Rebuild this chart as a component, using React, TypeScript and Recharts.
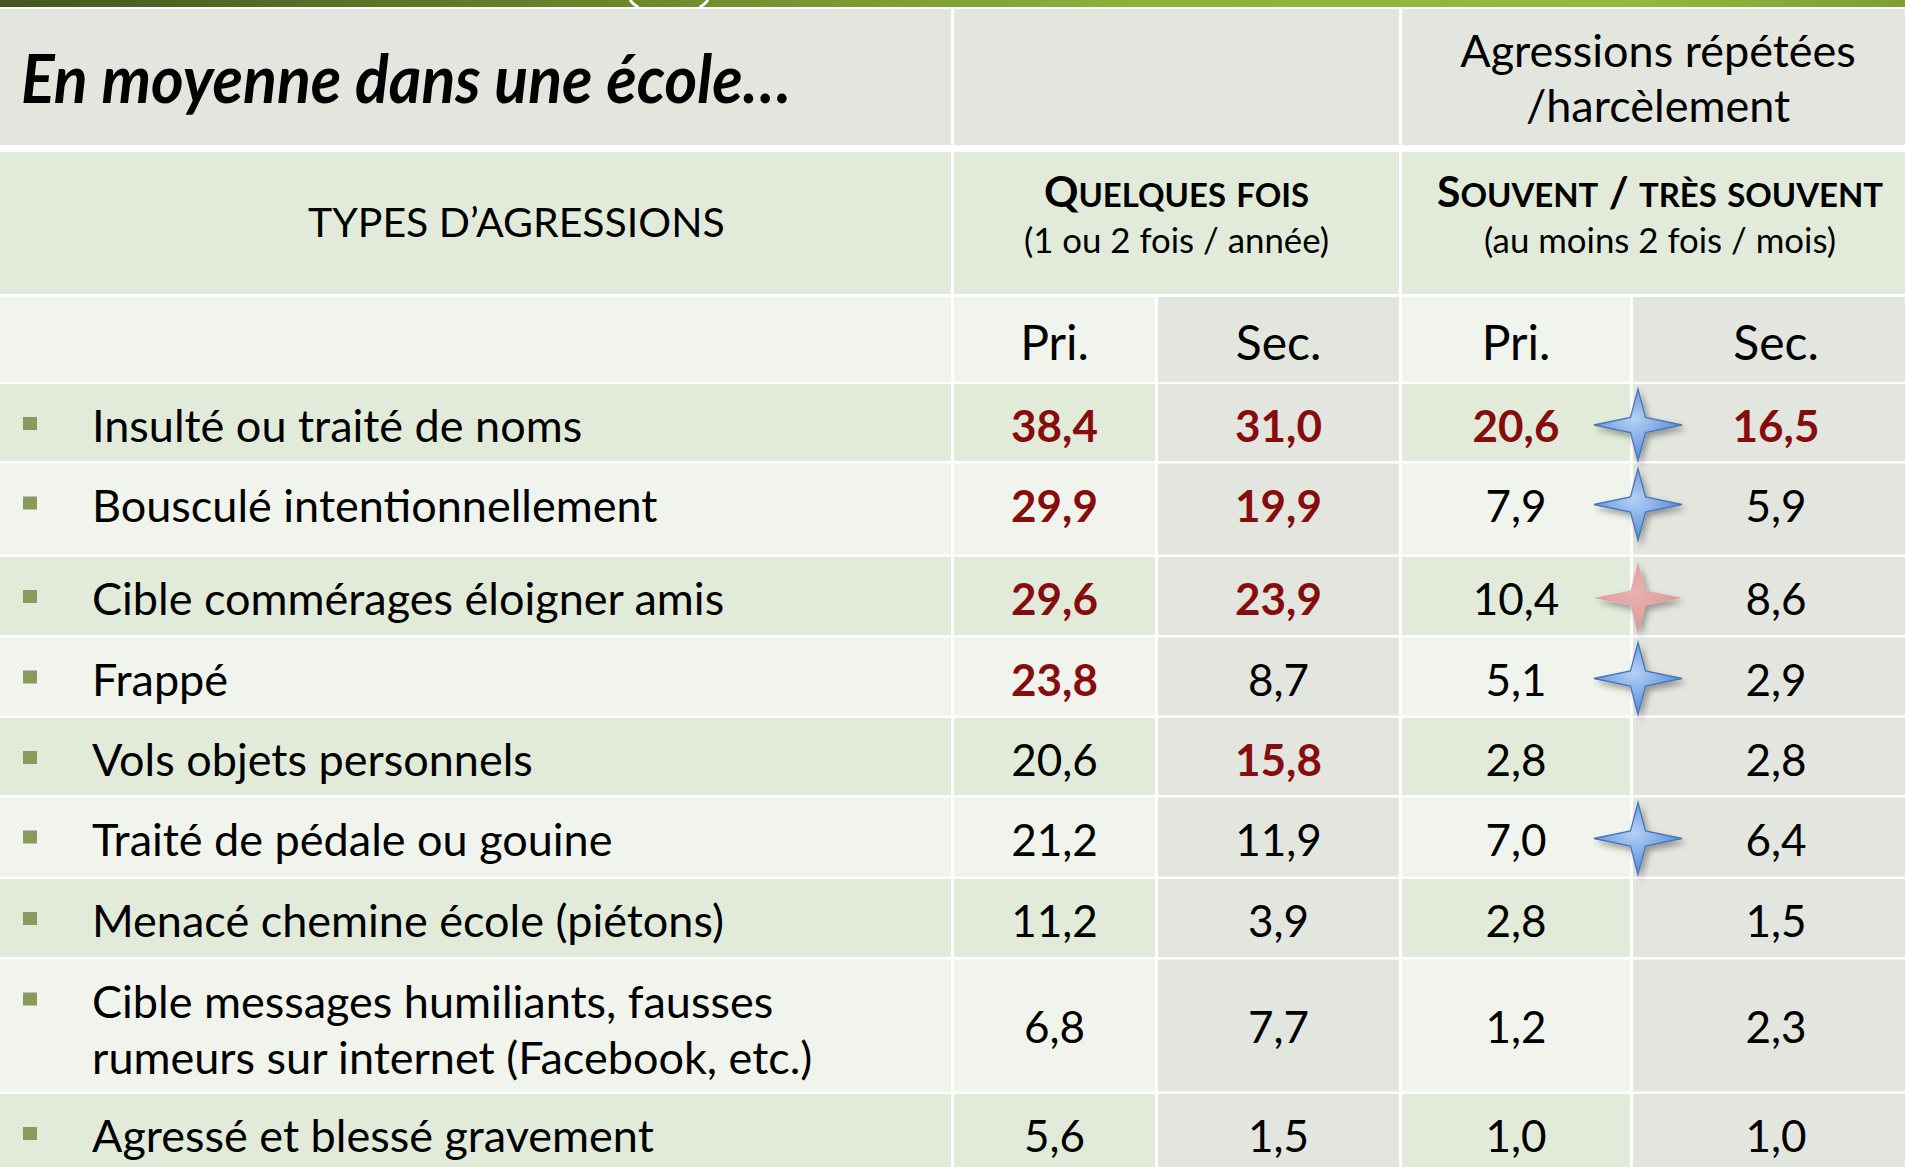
import React from "react";
import { ScatterChart, Scatter, XAxis, YAxis, ReferenceArea } from "recharts";

// ---------------- data ----------------
const agressionTypes = [
  "Insulté ou traité de noms",
  "Bousculé intentionnellement",
  "Cible commérages éloigner amis",
  "Frappé",
  "Vols objets personnels",
  "Traité de pédale ou gouine",
  "Menacé chemine école (piétons)",
  "Cible messages humiliants, fausses\nrumeurs sur internet (Facebook, etc.)",
  "Agressé et blessé gravement",
];
const quelquesFoisPrimaire = [38.4, 29.9, 29.6, 23.8, 20.6, 21.2, 11.2, 6.8, 5.6];
const quelquesFoisSecondaire = [31.0, 19.9, 23.9, 8.7, 15.8, 11.9, 3.9, 7.7, 1.5];
const souventPrimaire = [20.6, 7.9, 10.4, 5.1, 2.8, 7.0, 2.8, 1.2, 1.0];
const souventSecondaire = [16.5, 5.9, 8.6, 2.9, 2.8, 6.4, 1.5, 2.3, 1.0];
const quelquesFoisPrimaireMarque = [true, true, true, true, false, false, false, false, false];
const quelquesFoisSecondaireMarque = [true, true, true, false, true, false, false, false, false];
const souventPrimaireMarque = [true, false, false, false, false, false, false, false, false];
const souventSecondaireMarque = [true, false, false, false, false, false, false, false, false];
const etoilesEcart = ["bleue", "bleue", "rose", "bleue", "", "bleue", "", "", ""];

const titreTableau = "En moyenne dans une école…";
const titreRepetees = ["Agressions répétées", "/harcèlement"];
const titreTypes = "TYPES D’AGRESSIONS";
const groupesFrequence = ["Quelques fois", "Souvent / très souvent"];
const notesFrequence = ["(1 ou 2 fois / année)", "(au moins 2 fois / mois)"];
const sousColonnes = ["Pri.", "Sec.", "Pri.", "Sec."];

// ---------------- layout & style ----------------
const W = 1905;
const H = 1167;
const FONT = "Lato, 'Open Sans', sans-serif";
const COLS: [number, number][] = [
  [0, 951],
  [954, 1155],
  [1158, 1399],
  [1402, 1630],
  [1633, 1919],
];
const HEAD_ROWS: [number, number][] = [
  [9, 145],
  [152, 294],
  [297, 382],
];
const BODY_TOP = 384;
const ROW_HEIGHTS = [77, 91, 78, 78, 77, 79, 78, 132, 80];
const ROW_GAP = 2.5;
const FIRST_BASE = 58;
const LINE_H = 56;
const LABEL_SIZE = 45;
const VALUE_SIZE = 44;

const C_HEAD1 = "#E3E6DF";
const C_HEAD2 = "#E2EBDA";
const C_LIGHT = "#F1F4EC";
const C_GREEN = "#E2EBDA";
const C_GRAY = "#E3E5DF";
const C_RED = "#860D0D";

const fmt = (v: number) => v.toFixed(1).replace(".", ",");
const colCenter = (i: number) => (COLS[i][0] + COLS[i][1]) / 2;

const rowTops: number[] = [];
{
  let t = BODY_TOP;
  ROW_HEIGHTS.forEach((h) => {
    rowTops.push(t);
    t += h + ROW_GAP;
  });
}
const lineCount = (s: string) => s.split("\n").length;

// ---------- background cells ----------
type Cell = { x1: number; x2: number; y1: number; y2: number; fill: string };
const cells: Cell[] = [];
const spans3: [number, number][] = [
  [COLS[0][0], COLS[0][1]],
  [COLS[1][0], COLS[2][1]],
  [COLS[3][0], W],
];
spans3.forEach(([a, b]) => cells.push({ x1: a, x2: b, y1: HEAD_ROWS[0][0], y2: HEAD_ROWS[0][1], fill: C_HEAD1 }));
spans3.forEach(([a, b]) => cells.push({ x1: a, x2: b, y1: HEAD_ROWS[1][0], y2: HEAD_ROWS[1][1], fill: C_HEAD2 }));
COLS.forEach(([a, b], i) =>
  cells.push({
    x1: a,
    x2: Math.min(b, W),
    y1: HEAD_ROWS[2][0],
    y2: HEAD_ROWS[2][1],
    fill: i === 2 || i === 4 ? C_GRAY : C_LIGHT,
  })
);
agressionTypes.forEach((_, r) => {
  COLS.forEach(([a, b], i) => {
    const base = r % 2 === 0 ? C_GREEN : C_LIGHT;
    cells.push({
      x1: a,
      x2: Math.min(b, W),
      y1: rowTops[r],
      y2: Math.min(rowTops[r] + ROW_HEIGHTS[r], H),
      fill: i === 2 || i === 4 ? C_GRAY : base,
    });
  });
});

// ---------- text points ----------
const headerPoints = [
  { x: 21, y: 103, kind: "title", text: titreTableau },
  { x: 1658, y: 67, kind: "center", size: 45, text: titreRepetees[0] },
  { x: 1658, y: 122, kind: "center", size: 45, text: titreRepetees[1] },
  { x: 308, y: 237, kind: "start", size: 41, text: titreTypes },
  { x: (COLS[1][0] + COLS[2][1]) / 2, y: 207, kind: "caps", text: groupesFrequence[0] },
  { x: 1660, y: 207, kind: "caps", text: groupesFrequence[1] },
  { x: (COLS[1][0] + COLS[2][1]) / 2, y: 253, kind: "center", size: 34.8, text: notesFrequence[0] },
  { x: 1660, y: 253, kind: "center", size: 34.8, text: notesFrequence[1] },
  ...sousColonnes.map((s, i) => ({ x: colCenter(i + 1), y: 360, kind: "center", size: 48, text: s })),
];

const labelPoints = agressionTypes.map((label, r) => ({ x: 92, y: rowTops[r] + FIRST_BASE, label }));

const valueY = (r: number) => rowTops[r] + FIRST_BASE + (lineCount(agressionTypes[r]) - 1) * 25;
const makeValues = (vals: number[], marks: boolean[], col: number) =>
  vals.map((v, r) => ({ x: colCenter(col), y: valueY(r), v, strong: marks[r] }));

const seriesQFP = makeValues(quelquesFoisPrimaire, quelquesFoisPrimaireMarque, 1);
const seriesQFS = makeValues(quelquesFoisSecondaire, quelquesFoisSecondaireMarque, 2);
const seriesSP = makeValues(souventPrimaire, souventPrimaireMarque, 3);
const seriesSS = makeValues(souventSecondaire, souventSecondaireMarque, 4);

const starPoints = etoilesEcart
  .map((c, r) => ({ x: COLS[3][1] + 8, y: rowTops[r] + 41, color: c }))
  .filter((p) => p.color !== "");

// ---------------- shapes ----------------
const capsSpans = (s: string, big: number, small: number) => {
  const out: { t: string; size: number }[] = [];
  for (const ch of s) {
    const lower = ch !== ch.toUpperCase();
    const size = lower ? small : big;
    const c = ch.toUpperCase();
    const last = out[out.length - 1];
    if (last && last.size === size) last.t += c;
    else out.push({ t: c, size });
  }
  return out;
};

const HeaderShape = (p: any) => {
  const { cx, cy, payload } = p;
  const common = { fontFamily: FONT, fill: "#000" };
  if (payload.kind === "title")
    return (
      <text
        x={cx}
        y={cy}
        fontSize={67}
        fontWeight={700}
        fontStyle="italic"
        textLength={770}
        lengthAdjust="spacingAndGlyphs"
        {...common}
      >
        {payload.text}
      </text>
    );
  if (payload.kind === "start")
    return (
      <text x={cx} y={cy} fontSize={payload.size} {...common}>
        {payload.text}
      </text>
    );
  if (payload.kind === "caps")
    return (
      <text x={cx} y={cy} textAnchor="middle" fontWeight={700} {...common}>
        {capsSpans(payload.text, 42.7, 32.9).map((s, i) => (
          <tspan key={i} fontSize={s.size}>
            {s.t}
          </tspan>
        ))}
      </text>
    );
  return (
    <text x={cx} y={cy} textAnchor="middle" fontSize={payload.size} {...common}>
      {payload.text}
    </text>
  );
};

const LabelShape = (p: any) => {
  const { cx, cy, payload } = p;
  const lines = String(payload.label).split("\n");
  return (
    <g>
      <rect x={cx - 69} y={cy - 25} width={14} height={13} fill="#8A995D" />
      <text x={cx} y={cy} fontSize={LABEL_SIZE} fontFamily={FONT} fill="#000">
        {lines.map((l, i) => (
          <tspan key={i} x={cx} dy={i === 0 ? 0 : LINE_H}>
            {l}
          </tspan>
        ))}
      </text>
    </g>
  );
};

const ValueShape = (p: any) => {
  const { cx, cy, payload } = p;
  return (
    <text
      x={cx}
      y={cy}
      textAnchor="middle"
      fontSize={VALUE_SIZE}
      fontFamily={FONT}
      fontWeight={payload.strong ? 700 : 400}
      fill={payload.strong ? C_RED : "#000"}
    >
      {fmt(payload.v)}
    </text>
  );
};

const StarShape = (p: any) => {
  const { cx, cy, payload } = p;
  const a = 44;
  const b = 36;
  const k = 7.5;
  const d = `M${cx},${cy - b} L${cx + k},${cy - k} L${cx + a},${cy} L${cx + k},${cy + k} L${cx},${cy + b} L${cx - k},${cy + k} L${cx - a},${cy} L${cx - k},${cy - k} Z`;
  const blue = payload.color === "bleue";
  return (
    <path
      d={d}
      fill={blue ? "url(#starBlue)" : "url(#starPink)"}
      stroke={blue ? "#4677B8" : "none"}
      strokeWidth={1.3}
      filter="url(#starShadow)"
    />
  );
};

const StripShape = (p: any) => {
  const { x, y, width, height } = p;
  return (
    <g>
      <defs>
        <linearGradient id="stripGrad" x1="0" y1="0" x2="1" y2="0">
          <stop offset="0" stopColor="#46561E" />
          <stop offset="0.3" stopColor="#6A8229" />
          <stop offset="0.6" stopColor="#8BB33B" />
          <stop offset="0.85" stopColor="#93BB3F" />
          <stop offset="1" stopColor="#7C9E33" />
        </linearGradient>
        <radialGradient id="starBlue" cx="0.45" cy="0.42" r="0.6">
          <stop offset="0" stopColor="#B6D1F4" />
          <stop offset="0.5" stopColor="#82ABE6" />
          <stop offset="1" stopColor="#4E86D0" />
        </radialGradient>
        <radialGradient id="starPink" cx="0.45" cy="0.42" r="0.6">
          <stop offset="0" stopColor="#EAB0B0" />
          <stop offset="1" stopColor="#DC9797" />
        </radialGradient>
        <filter id="starShadow" x="-50%" y="-50%" width="200%" height="200%">
          <feDropShadow dx="3" dy="4" stdDeviation="3" floodColor="#000" floodOpacity="0.35" />
        </filter>
      </defs>
      <rect x={x} y={y} width={width} height={height} fill="url(#stripGrad)" />
      <path d={`M630,${y} Q633,${y + 4.5} 638.5,${y + height + 0.5}`} stroke="#fff" strokeWidth={3} fill="none" />
      <path d={`M708,${y} Q705,${y + 4.5} 699.5,${y + height + 0.5}`} stroke="#fff" strokeWidth={3} fill="none" />
    </g>
  );
};

export default function App() {
  return (
    <div style={{ position: "absolute", left: 0, top: 0, width: W, height: H, background: "#fff" }}>
      <ScatterChart width={W} height={H} margin={{ top: 0, right: 0, bottom: 0, left: 0 }}>
        <XAxis type="number" dataKey="x" domain={[0, W]} hide />
        <YAxis type="number" dataKey="y" domain={[0, H]} reversed hide />
        <ReferenceArea x1={0} x2={W} y1={0} y2={7} shape={StripShape} ifOverflow="visible" />
        {cells.map((c, i) => (
          <ReferenceArea
            key={i}
            x1={c.x1}
            x2={c.x2}
            y1={c.y1}
            y2={c.y2}
            fill={c.fill}
            fillOpacity={1}
            stroke="none"
            ifOverflow="visible"
          />
        ))}
        <Scatter data={headerPoints} shape={HeaderShape} isAnimationActive={false} />
        <Scatter data={labelPoints} shape={LabelShape} isAnimationActive={false} />
        <Scatter data={seriesQFP} shape={ValueShape} isAnimationActive={false} />
        <Scatter data={seriesQFS} shape={ValueShape} isAnimationActive={false} />
        <Scatter data={seriesSP} shape={ValueShape} isAnimationActive={false} />
        <Scatter data={seriesSS} shape={ValueShape} isAnimationActive={false} />
        <Scatter data={starPoints} shape={StarShape} isAnimationActive={false} />
      </ScatterChart>
    </div>
  );
}
